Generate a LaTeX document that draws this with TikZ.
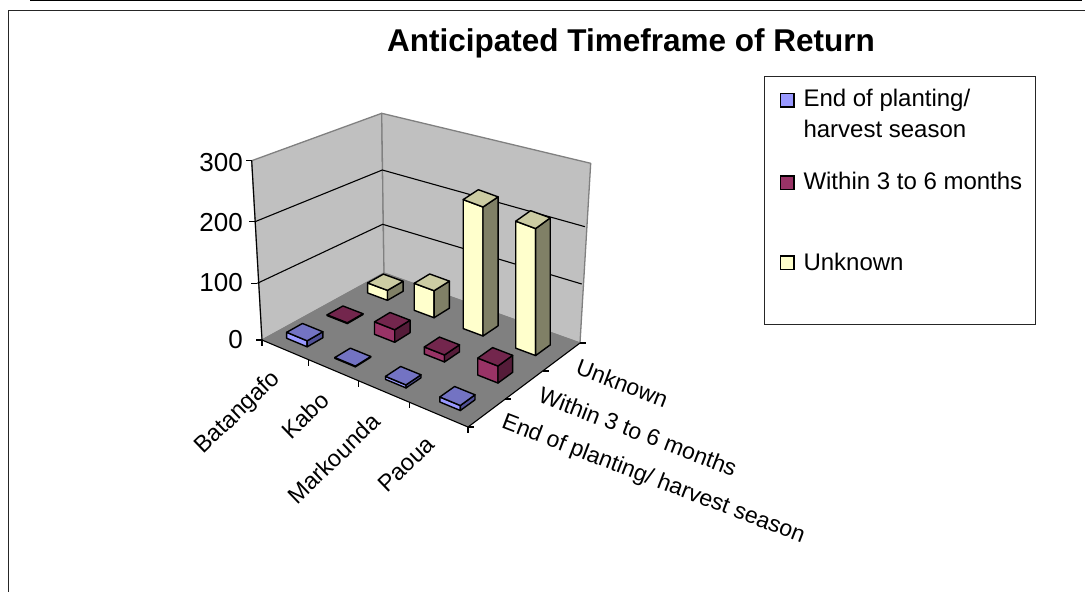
\documentclass[tikz,border=0pt]{standalone}
\usepackage{fontspec}
\setmainfont{Liberation Sans}
\usetikzlibrary{calc}
\definecolor{wallc}{HTML}{C0C0C0}
\definecolor{floorc}{HTML}{808080}
\definecolor{edgec}{HTML}{808080}
\definecolor{sAf}{RGB}{153,153,255}
\definecolor{sAt}{RGB}{115,115,195}
\definecolor{sAs}{RGB}{80,80,150}
\definecolor{sBf}{RGB}{153,51,102}
\definecolor{sBt}{RGB}{115,38,77}
\definecolor{sBs}{RGB}{85,28,57}
\definecolor{sCf}{RGB}{255,255,204}
\definecolor{sCt}{RGB}{204,204,163}
\definecolor{sCs}{RGB}{128,128,102}
\newcommand\hu{0.05}
\newcommand\hv{0.065}
% floor point at (u,v) by bilinear interpolation of the floor corners
\newcommand\fp[3]{%
  \pgfmathsetmacro\cwL{(1-(#2))*(1-(#3))}%
  \pgfmathsetmacro\cwF{(#2)*(1-(#3))}%
  \pgfmathsetmacro\cwR{(#2)*(#3)}%
  \pgfmathsetmacro\cwB{(1-(#2))*(#3)}%
  \coordinate (#1) at (barycentric cs:L=\cwL,F=\cwF,R=\cwR,B=\cwB);}
% bar: u, v, height(px), front, top, side colours
\newcommand\cubebar[6]{%
  \pgfmathsetmacro\cua{#1-\hu}\pgfmathsetmacro\cub{#1+\hu}%
  \pgfmathsetmacro\cva{#2-\hv}\pgfmathsetmacro\cvb{#2+\hv}%
  \fp{qa}{\cua}{\cva}\fp{qb}{\cub}{\cva}\fp{qc}{\cub}{\cvb}\fp{qd}{\cua}{\cvb}%
  \coordinate (ta) at ([yshift=#3pt]qa);\coordinate (tb) at ([yshift=#3pt]qb);%
  \coordinate (tc) at ([yshift=#3pt]qc);\coordinate (td) at ([yshift=#3pt]qd);%
  \draw[barline,fill=#4] (qa) -- (qb) -- (tb) -- (ta) -- cycle;%
  \draw[barline,fill=#6] (qb) -- (qc) -- (tc) -- (tb) -- cycle;%
  \draw[barline,fill=#5] (ta) -- (tb) -- (tc) -- (td) -- cycle;}
\begin{document}
\begin{tikzpicture}[x=1pt,y=-1pt,
  barline/.style={draw=black,line width=1.4pt,line join=round},
  wallstyle/.style={fill=wallc,draw=edgec,line width=1.3pt,line join=round},
  gridl/.style={draw=black,line width=1.1pt},
  axisl/.style={draw=black,line width=1.1pt},
  vlab/.style={font=\fontsize{26}{30}\selectfont,anchor=east,inner sep=0pt},
  clab/.style={font=\fontsize{23.5}{27}\selectfont,anchor=east,inner sep=0pt,rotate=44},
  slab/.style={font=\fontsize{23}{27}\selectfont,anchor=west,inner sep=0pt,rotate=-21},
  legtext/.style={font=\fontsize{24}{28}\selectfont,anchor=base west,inner sep=0pt},
  legmark/.style={draw=black,line width=1.5pt,minimum size=13.5pt,inner sep=0pt}]
\useasboundingbox (0,0) rectangle (1085,592);
% outer frame
\draw[line width=1.2pt] (30,0.8) -- (1082,0.8);
\draw[line width=1.6pt,draw=black!85] (8.5,600) -- (8.5,10.5) -- (1090,10.5);
% geometry
\coordinate (L) at (262,340);
\coordinate (F) at (468,427);
\coordinate (R) at (580,343);
\coordinate (B) at (384,273);
\coordinate (Lt) at (251.7,160.7);
\coordinate (Bt) at (381.7,113.3);
\coordinate (Rt) at (590.7,163.3);
\coordinate (L1) at (257.3,283.3);
\coordinate (L2) at (255,221.7);
\coordinate (B1) at (382.7,224.3);
\coordinate (B2) at (382.3,170);
\coordinate (R1) at (581.7,284);
\coordinate (R2) at (585,226.7);
% walls
\draw[wallstyle] (L) -- (Lt) -- (Bt) -- (B) -- cycle;
\draw[wallstyle] (B) -- (Bt) -- (Rt) -- (R) -- cycle;
\draw[gridl] (L1) -- (B1) -- (R1);
\draw[gridl] (L2) -- (B2) -- (R2);
% floor
\fill[floorc] (L) -- (B) -- (R) -- (F) -- cycle;
\draw[edgec,line width=1pt] (L) -- (B) -- (R);
% axes
\draw[axisl] (Lt) -- (L) -- (F) -- (R);
\foreach \c in {L,L1,L2,Lt} {\draw[axisl] (\c) -- ++(-6,0);}
\foreach \t in {0,0.225,0.467,0.718,1} {\fp{tk}{\t}{0}\draw[axisl] (tk) -- ++(0,6);}
\foreach \t in {0,0.3333,0.6667,1} {\fp{sk}{1}{\t}\draw[axisl] (sk) -- ++(6,0);}
% bars: back row first
\cubebar{0.11}{0.8333}{10}{sCf}{sCt}{sCs}
\cubebar{0.345}{0.8333}{27}{sCf}{sCt}{sCs}
\cubebar{0.592}{0.8333}{129}{sCf}{sCt}{sCs}
\cubebar{0.857}{0.8333}{127}{sCf}{sCt}{sCs}
\cubebar{0.11}{0.5}{0.8}{sBf}{sBt}{sBs}
\cubebar{0.345}{0.5}{12.5}{sBf}{sBt}{sBs}
\cubebar{0.592}{0.5}{7}{sBf}{sBt}{sBs}
\cubebar{0.857}{0.5}{17}{sBf}{sBt}{sBs}
\cubebar{0.11}{0.1667}{6}{sAf}{sAt}{sAs}
\cubebar{0.345}{0.1667}{0.8}{sAf}{sAt}{sAs}
\cubebar{0.592}{0.1667}{3}{sAf}{sAt}{sAs}
\cubebar{0.857}{0.1667}{5}{sAf}{sAt}{sAs}
% value labels
\node[vlab] (v0) at (243,340) {0};
\node[vlab] (v1) at (243,283) {100};
\node[vlab] (v2) at (243,222.5) {200};
\node[vlab] (v3) at (243,163) {300};
% category labels
\fp{ca}{0.11}{0}\fp{cb}{0.345}{0}\fp{cc}{0.592}{0}\fp{cd}{0.857}{0}
\node[clab] (catA) at ($(ca)+(-8,26)$) {Batangafo};
\node[clab] (catB) at ($(cb)+(-8,26)$) {Kabo};
\node[clab] (catC) at ($(cc)+(-8,26)$) {Markounda};
\node[clab] (catD) at ($(cd)+(-8,26)$) {Paoua};
% series labels
\fp{sa}{1}{0.1667}\fp{sb}{1}{0.5}\fp{sc}{1}{0.8333}
\node[slab] (serA) at ($(sa)+(16,9)$) {End of planting/ harvest season};
\node[slab] (serB) at ($(sb)+(16,9)$) {Within 3 to 6 months};
\node[slab] (serC) at ($(sc)+(16,9)$) {Unknown};
% title
\node[font=\bfseries\fontsize{31.5}{36}\selectfont,anchor=base] (title) at (631,51) {Anticipated Timeframe of Return};
% legend
\node[draw=black!85,line width=1pt,minimum width=270.7pt,minimum height=248pt,inner sep=0pt] (legend) at (899.7,200) {};
\node[legmark,fill=sAf] (mA) at (787,100.3) {};
\node[legmark,fill=sBf] (mB) at (787,182.5) {};
\node[legmark,fill=sCf] (mC) at (787,262.5) {};
\node[legtext] (lA1) at (803.3,106.7) {End of planting/};
\node[legtext] (lA2) at (803.3,137.3) {harvest season};
\node[legtext] (lB) at (803.3,189.3) {Within 3 to 6 months};
\node[legtext] (lC) at (803.3,270) {Unknown};
\end{tikzpicture}
\end{document}
